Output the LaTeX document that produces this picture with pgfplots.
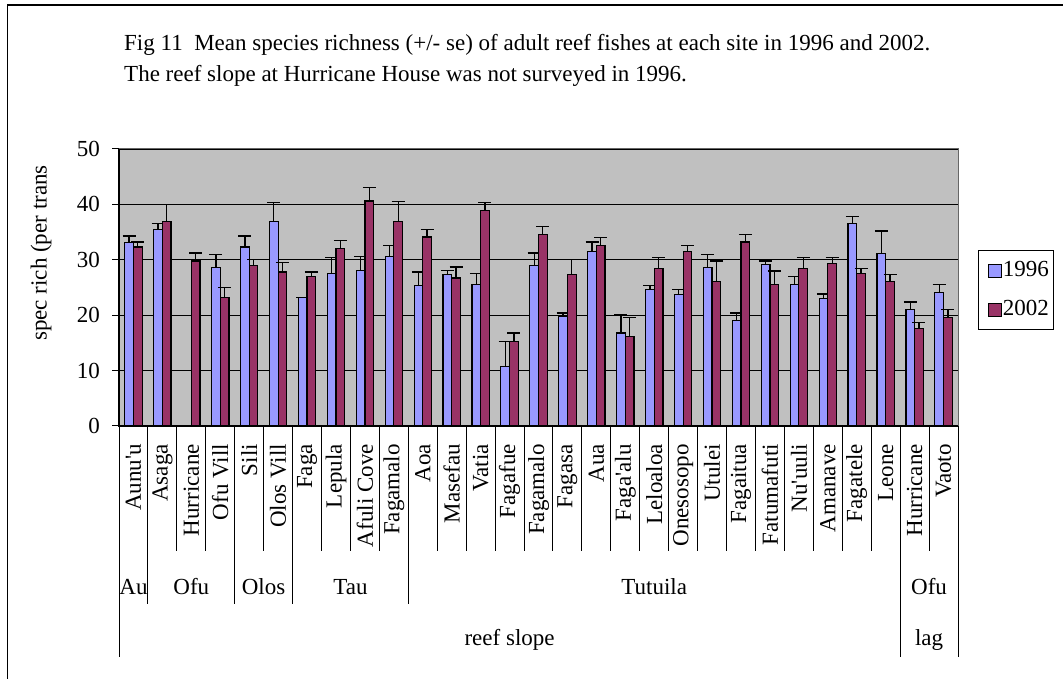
\documentclass[border=0pt]{standalone}
\usepackage{fontspec}
\setmainfont{Liberation Serif}
\usepackage{pgfplots}
\usepackage{pgfplotstable}
\pgfplotsset{compat=1.18}
\definecolor{c96}{HTML}{9999FF}
\definecolor{c02}{HTML}{993366}
\definecolor{cbg}{HTML}{C0C0C0}

% site index, mean, +se
\pgfplotstableread{
x y e
1 33.1 1.2
2 35.5 1.1
4 28.6 2.3
5 32.3 2.0
6 36.9 3.4
7 23.2 0.0
8 27.5 2.9
9 28.0 2.6
10 30.6 2.0
11 25.3 2.5
12 27.3 0.8
13 25.6 1.9
14 10.8 4.5
15 29.0 2.2
16 19.8 0.6
17 31.5 1.7
18 16.8 3.3
19 24.7 0.6
20 23.8 0.9
21 28.6 2.3
22 19.0 1.4
23 29.2 0.6
24 25.5 1.5
25 23.0 0.8
26 36.6 1.2
27 31.2 4.0
28 21.0 1.4
29 24.1 1.4
}\tabA
\pgfplotstableread{
x y e
1 32.3 0.9
2 36.9 3.1
3 29.8 1.4
4 23.2 1.8
5 29.0 1.0
6 27.8 1.7
7 27.0 0.8
8 32.1 1.4
9 40.6 2.5
10 36.9 3.6
11 34.1 1.4
12 26.7 2.0
13 38.9 1.4
14 15.3 1.5
15 34.6 1.4
16 27.3 2.8
17 32.6 1.4
18 16.2 3.4
19 28.4 2.0
20 31.5 1.1
21 26.1 3.7
22 33.2 1.4
23 25.5 2.5
24 28.4 2.0
25 29.3 1.1
26 27.5 0.9
27 26.1 1.2
28 17.6 1.1
29 19.6 1.4
}\tabB

\pgfplotsset{sq legend/.style={legend image code/.code={%
  \path[draw=none, fill=none] (0pt,0pt) -- (20pt,0pt);
  \draw[##1, draw=black, line width=1pt] (7pt,-6.5pt) rectangle (20pt,6.5pt);}}}

\begin{document}
\fontsize{23}{28}\selectfont
\begin{tikzpicture}[x=1pt,y=1pt]
\useasboundingbox (0,0) rectangle (1063,679);
\draw[line width=1.3pt] (7.3,-2) -- (7.3,674) -- (1065,674);
\node[anchor=base west, inner sep=0pt] at (124,628.5) {Fig 11\ \ Mean species richness (+/- se) of adult reef fishes at each site in 1996 and 2002.};
\node[anchor=base west, inner sep=0pt] at (124,597) {The reef slope at Hurricane House was not surveyed in 1996.};
\node[rotate=90, inner sep=0pt] at (41,426) {spec rich (per trans};

\begin{axis}[
  at={(119pt,253pt)}, anchor=south west,
  scale only axis, width=839pt, height=277pt,
  ybar, bar width=0.3,
  xmin=0.5, xmax=29.5, ymin=0, ymax=50,
  enlarge x limits=false,
  xtick={1,...,29},
  xticklabels={Aunu\textquotesingle u,Asaga,Hurricane,Ofu Vill,Sili,Olos Vill,Faga,Lepula,Afuli Cove,Fagamalo,Aoa,Masefau,Vatia,Fagafue,Fagamalo,Fagasa,Aua,Faga\textquotesingle alu,Leloaloa,Onesosopo,Utulei,Fagaitua,Fatumafuti,Nu\textquotesingle uuli,Amanave,Fagatele,Leone,Hurricane,Vaoto},
  xticklabel style={rotate=90, anchor=east, inner sep=0pt},
  xticklabel shift=11pt,
  xtick style={draw=none},
  ytick={0,10,...,50},
  ytick pos=left,
  tick align=outside,
  ytick style={black, line width=1pt},
  major tick length=7pt,
  yticklabel style={anchor=east, inner sep=0pt},
  yticklabel shift=12pt,
  /pgf/number format/assume math mode=true,
  ymajorgrids, major grid style={black, line width=0.9pt},
  axis background/.style={fill=cbg},
  axis line style={draw=none},
  clip=false,
  legend style={at={(axis description cs:1,1)}, anchor=north west,
    xshift=20pt, yshift=-101pt, draw=black, line width=0.9pt,
    inner xsep=3pt, inner ysep=10pt, row sep=18pt,
    nodes={inner sep=1pt},
    /tikz/every even column/.append style={column sep=2pt}},
  legend cell align=left,
]
\addplot[fill=c96, draw=black, line width=1.2pt, bar shift=-0.15, sq legend,
  error bars/.cd, y dir=plus, y explicit,
  error bar style={black, line width=1.3pt},
  error mark options={black, line width=1.3pt, mark size=6.5pt, rotate=90}]
  table[x=x, y=y, y error=e] {\tabA};
\addplot[fill=c02, draw=black, line width=1.2pt, bar shift=0.15, sq legend,
  error bars/.cd, y dir=plus, y explicit,
  error bar style={black, line width=1.3pt},
  error mark options={black, line width=1.3pt, mark size=6.5pt, rotate=90}]
  table[x=x, y=y, y error=e] {\tabB};
\legend{1996,2002}
\draw[gray!80!black, line width=1pt] (rel axis cs:0,1) -- (rel axis cs:1,1) -- (rel axis cs:1,0);
\draw[black, line width=1.2pt] (rel axis cs:0,1) -- (rel axis cs:0,0) -- (rel axis cs:1,0);
\end{axis}

% category separators below the axis
\foreach \k in {2,3,5,7,8,9,11,12,13,14,15,16,17,18,19,20,21,22,23,24,25,26,28}
  \draw[line width=1pt] (119+\k*28.931,253) -- ++(0,-125);
\foreach \k in {1,4,6,10}
  \draw[line width=1pt] (119+\k*28.931,253) -- ++(0,-178);
\foreach \k in {0,27,29}
  \draw[line width=1pt] (119+\k*28.931,253) -- ++(0,-231);

% island row
\node at (133.5,92) {Au};
\node at (191.3,92) {Ofu};
\node at (263.6,92) {Olos};
\node at (350.4,92) {Tau};
\node at (654.2,92) {Tutuila};
\node at (929.1,92) {Ofu};
% habitat row
\node at (509.6,39) {reef slope};
\node at (929.1,39) {lag};
\end{tikzpicture}
\end{document}
